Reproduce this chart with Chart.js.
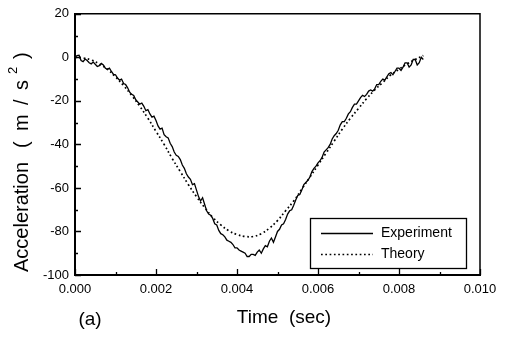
<!DOCTYPE html>
<html>
<head>
<meta charset="utf-8">
<script src="https://cdn.jsdelivr.net/npm/chart.js@4"></script>
<style>
  html, body { margin: 0; padding: 0; background: #fff; }
  #wrap { width: 505px; height: 338px; }
</style>
</head>
<body>
<div id="wrap"><canvas id="c" width="505" height="338"></canvas></div>
<script>
// --- DONNEES ---
const expTime = [
  0.00000, 0.00005, 0.00010, 0.00015, 0.00020, 0.00025, 0.00030, 0.00035, 0.00040, 0.00045,
  0.00050, 0.00055, 0.00060, 0.00065, 0.00070, 0.00075, 0.00080, 0.00085, 0.00090, 0.00095,
  0.00100, 0.00105, 0.00110, 0.00115, 0.00120, 0.00125, 0.00130, 0.00135, 0.00140, 0.00145,
  0.00150, 0.00155, 0.00160, 0.00165, 0.00170, 0.00175, 0.00180, 0.00185, 0.00190, 0.00195,
  0.00200, 0.00205, 0.00210, 0.00215, 0.00220, 0.00225, 0.00230, 0.00235, 0.00240, 0.00245,
  0.00250, 0.00255, 0.00260, 0.00265, 0.00270, 0.00275, 0.00280, 0.00285, 0.00290, 0.00295,
  0.00300, 0.00305, 0.00310, 0.00315, 0.00320, 0.00325, 0.00330, 0.00335, 0.00340, 0.00345,
  0.00350, 0.00355, 0.00360, 0.00365, 0.00370, 0.00375, 0.00380, 0.00385, 0.00390, 0.00395,
  0.00400, 0.00405, 0.00410, 0.00415, 0.00420, 0.00425, 0.00430, 0.00435, 0.00440, 0.00445,
  0.00450, 0.00455, 0.00460, 0.00465, 0.00470, 0.00475, 0.00480, 0.00485, 0.00490, 0.00495,
  0.00500, 0.00505, 0.00510, 0.00515, 0.00520, 0.00525, 0.00530, 0.00535, 0.00540, 0.00545,
  0.00550, 0.00555, 0.00560, 0.00565, 0.00570, 0.00575, 0.00580, 0.00585, 0.00590, 0.00595,
  0.00600, 0.00605, 0.00610, 0.00615, 0.00620, 0.00625, 0.00630, 0.00635, 0.00640, 0.00645,
  0.00650, 0.00655, 0.00660, 0.00665, 0.00670, 0.00675, 0.00680, 0.00685, 0.00690, 0.00695,
  0.00700, 0.00705, 0.00710, 0.00715, 0.00720, 0.00725, 0.00730, 0.00735, 0.00740, 0.00745,
  0.00750, 0.00755, 0.00760, 0.00765, 0.00770, 0.00775, 0.00780, 0.00785, 0.00790, 0.00795,
  0.00800, 0.00805, 0.00810, 0.00815, 0.00820, 0.00825, 0.00830, 0.00835, 0.00840, 0.00845,
  0.00850, 0.00855, 0.00860
];
const expAccel = [
  0, 0.8, 1, -1.5, -2, -0.8, -1.5, -2.5, -3, -2.2,
  -3.2, -4.2, -3.8, -2.8, -3.5, -5, -5.5, -5, -6.5, -7.8,
  -8, -9.5, -10.5, -10, -12, -12.5, -14, -16, -17, -17.5,
  -19.5, -20.5, -21.5, -21, -22.5, -24.5, -24, -26, -27.5, -27,
  -29, -31.5, -33, -32.5, -35.5, -36.5, -37, -39.5, -41, -43.5,
  -45, -45.5, -47, -49.5, -51, -53.5, -55, -56, -58.5, -58,
  -61, -64, -66, -64.5, -67.5, -70.5, -72, -72.5, -74, -76.5,
  -77, -79.5, -81, -81.5, -82.5, -84, -84.5, -85, -86, -87.5,
  -87.5, -88.5, -89, -89.5, -90, -91.5, -91.5, -90.5, -90.5, -91,
  -89.5, -88.5, -90, -88, -86.5, -87, -84.5, -83, -85, -82.5,
  -80, -79, -77, -76.5, -74.5, -72, -70.5, -70, -68, -65.5,
  -63.5, -63, -61, -58.5, -57.5, -56.5, -55, -52.5, -51, -50,
  -48.5, -47.5, -46, -43.5, -42.5, -41.5, -40, -37.5, -36, -35,
  -33.5, -31, -29.5, -29.5, -28, -26, -25, -23, -21.5, -21.5,
  -20, -18.5, -17.5, -18, -17, -15.5, -15, -15.5, -14.5, -12.5,
  -12.5, -11, -10, -10.5, -9, -7.5, -7, -8, -6.5, -5,
  -5, -6, -4.5, -2.5, -2.5, -4.5, -3.5, -1, -1, -3.5,
  -2.5, 0, -1
];

const theoryTime = [
  0.0000, 0.0002, 0.0004, 0.0006, 0.0008, 0.0010, 0.0012, 0.0014, 0.0016, 0.0018,
  0.0020, 0.0022, 0.0024, 0.0026, 0.0028, 0.0030, 0.0032, 0.0034, 0.0036, 0.0038,
  0.0040, 0.0042, 0.0044, 0.0046, 0.0048, 0.0050, 0.0052, 0.0054, 0.0056, 0.0058,
  0.0060, 0.0062, 0.0064, 0.0066, 0.0068, 0.0070, 0.0072, 0.0074, 0.0076, 0.0078,
  0.0080, 0.0082, 0.0084, 0.0086
];
const theoryAccel = [
  0, -0.3, -1.2, -3, -5.5, -9, -13, -17.5, -22.5, -28,
  -34, -40, -46.5, -52.5, -58.5, -64, -69, -73.5, -77, -79.7,
  -81.4, -82.3, -82.3, -81, -78.5, -75, -70.5, -66, -60.5, -55,
  -49.5, -44, -38.5, -33, -28, -23.5, -19, -15, -11.5, -8,
  -5.5, -3, -1, 0.8
];

const xTicks = [0, 0.002, 0.004, 0.006, 0.008, 0.010];
const yTicks = [20, 0, -20, -40, -60, -80, -100];
const seriesNames = ['Experiment', 'Theory'];

const FONT = '"Liberation Sans", Arial, sans-serif';

function toPoints(xs, ys) {
  return xs.map((x, i) => ({ x: x, y: ys[i] }));
}

// --- PLUGIN : cadre, graduations internes, titres, legende ---
const decor = {
  id: 'decor',
  afterDraw(chart) {
    const ctx = chart.ctx;
    const a = chart.chartArea;
    const xs = chart.scales.x, ys = chart.scales.y;
    ctx.save();
    ctx.strokeStyle = '#000';

    // cadre haut / droite
    ctx.lineWidth = 1.5;
    ctx.beginPath();
    ctx.moveTo(a.left, a.top); ctx.lineTo(a.right, a.top); ctx.lineTo(a.right, a.bottom);
    ctx.stroke();

    // graduations vers l'interieur
    ctx.lineWidth = 1.3;
    ctx.beginPath();
    for (let v = 0; v <= 0.0101; v += 0.001) {
      const px = Math.round(xs.getPixelForValue(v)) + 0.5;
      const major = Math.round(v * 1000) % 2 === 0;
      ctx.moveTo(px, a.bottom); ctx.lineTo(px, a.bottom - (major ? 6 : 3));
    }
    for (let v = -100; v <= 20; v += 10) {
      const py = Math.round(ys.getPixelForValue(v)) + 0.5;
      const major = v % 20 === 0;
      ctx.moveTo(a.left, py); ctx.lineTo(a.left + (major ? 6 : 3), py);
    }
    ctx.stroke();

    // titre axe Y, morceau par morceau (espacement large comme l'original)
    ctx.fillStyle = '#000';
    ctx.translate(22, 272);
    ctx.rotate(-Math.PI / 2);
    ctx.textBaseline = 'middle';
    ctx.textAlign = 'left';
    const big = '20px ' + FONT, small = '13px ' + FONT;
    const parts = [
      ['Acceleration', 0, big, 0],
      ['(', 124, big, 0],
      ['m', 141, big, 0],
      ['/', 167, big, 0],
      ['s', 182, big, 0],
      ['2', 198, small, -9],
      [')', 213, big, 0]
    ];
    parts.forEach(p => {
      ctx.font = p[2];
      ctx.fillText(p[0], p[1], p[3]);
    });
    ctx.setTransform(1, 0, 0, 1, 0, 0);

    // titre axe X et label (a)
    ctx.font = '19px ' + FONT;
    ctx.textAlign = 'center';
    ctx.textBaseline = 'middle';
    ctx.fillText('Time  (sec)', 284, 318);
    ctx.fillText('(a)', 90, 320);

    // legende
    ctx.lineWidth = 1.3;
    ctx.strokeRect(310.5, 218.5, 156, 50);
    const ds = chart.data.datasets;
    const rows = [233, 254];
    ds.forEach((d, i) => {
      ctx.save();
      ctx.strokeStyle = d.borderColor;
      ctx.lineWidth = d.borderWidth;
      ctx.setLineDash(d.borderDash || []);
      ctx.beginPath();
      ctx.moveTo(321, rows[i] + 0.5); ctx.lineTo(373, rows[i] + 0.5);
      ctx.stroke();
      ctx.restore();
      ctx.font = '14px ' + FONT;
      ctx.textAlign = 'left';
      ctx.fillText(d.label, 381, rows[i]);
    });
    ctx.restore();
  }
};

new Chart(document.getElementById('c'), {
  type: 'line',
  data: {
    datasets: [
      {
        label: seriesNames[0],
        data: toPoints(expTime, expAccel),
        borderColor: '#000',
        borderWidth: 1.3,
        pointRadius: 0,
        tension: 0,
        fill: false
      },
      {
        label: seriesNames[1],
        data: toPoints(theoryTime, theoryAccel),
        borderColor: '#000',
        borderWidth: 1.7,
        borderDash: [1.7, 2.6],
        pointRadius: 0,
        tension: 0.4,
        fill: false
      }
    ]
  },
  options: {
    responsive: false,
    animation: false,
    layout: { padding: { left: 0, right: 25, top: 13, bottom: 0 } },
    plugins: { legend: { display: false }, tooltip: { enabled: false } },
    scales: {
      x: {
        type: 'linear',
        min: 0, max: 0.01,
        afterFit: s => { s.height = 63; },
        afterBuildTicks: s => { s.ticks = xTicks.map(v => ({ value: v })); },
        grid: { display: false, drawTicks: false },
        border: { display: true, color: '#000', width: 2 },
        ticks: {
          padding: 7,
          color: '#000',
          font: { family: FONT, size: 13 },
          maxRotation: 0,
          callback: v => v.toFixed(3)
        }
      },
      y: {
        type: 'linear',
        min: -100, max: 20,
        afterFit: s => { s.width = 75; },
        afterBuildTicks: s => { s.ticks = yTicks.map(v => ({ value: v })); },
        grid: { display: false, drawTicks: false },
        border: { display: true, color: '#000', width: 2 },
        ticks: {
          padding: 6,
          color: '#000',
          font: { family: FONT, size: 13 },
          callback: v => String(v)
        }
      }
    }
  },
  plugins: [decor]
});
</script>
</body>
</html>
